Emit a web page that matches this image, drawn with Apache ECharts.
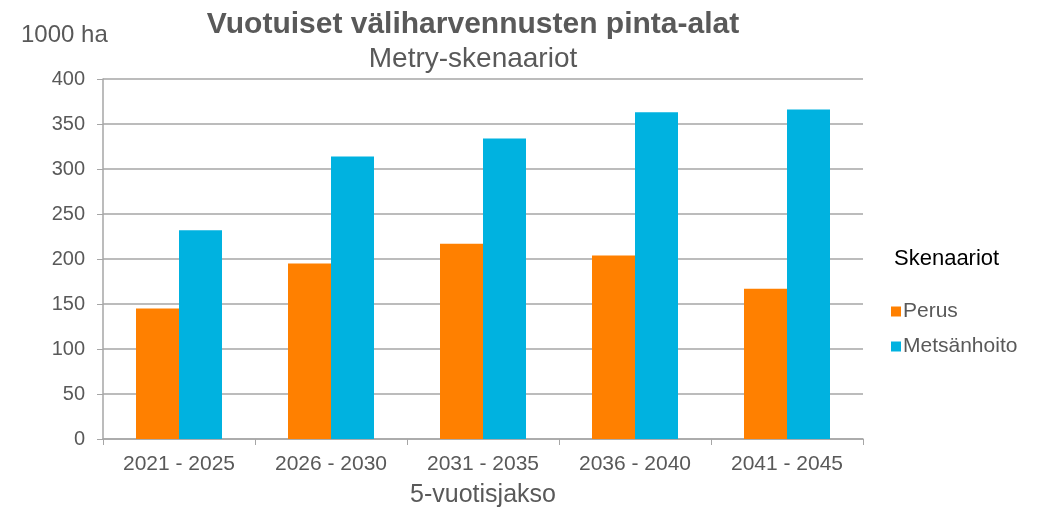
<!DOCTYPE html>
<html><head><meta charset="utf-8">
<script src="https://cdn.jsdelivr.net/npm/echarts@6/dist/echarts.min.js"></script>
<style>html,body{margin:0;padding:0;background:#fff}#c{width:1043px;height:513px}</style>
</head><body><div id="c"></div>
<script>
const categories = ['2021 - 2025','2026 - 2030','2031 - 2035','2036 - 2040','2041 - 2045'];
const perus = [145, 195, 217, 204, 167];
const metsanhoito = [232, 314, 334, 363, 366];
const seriesNames = ['Perus','Metsänhoito'];
const FONT = "'Liberation Sans',Arial,sans-serif";
const chart = echarts.init(document.getElementById('c'));
chart.setOption({
  backgroundColor:'#fff',
  animation:false,
  title:[
    {text:'Vuotuiset väliharvennusten pinta-alat', left:468, top:5, textAlign:'center',
     textStyle:{fontFamily:FONT,fontSize:30,fontWeight:'bold',color:'#595959'}},
    {text:'Metry-skenaariot', left:468, top:40, textAlign:'center',
     textStyle:{fontFamily:FONT,fontSize:28,fontWeight:'normal',color:'#595959'}}
  ],
  graphic:[
    {type:'text', left:21, top:23, style:{text:'1000 ha', fontFamily:FONT, fontSize:24, fill:'#595959'}},
    {type:'text', left:894, top:248, style:{text:'Skenaariot', fontFamily:FONT, fontSize:22, fill:'#000'}}
  ],
  legend:{orient:'vertical', left:886, top:296, itemWidth:10, itemHeight:10, itemGap:14,
    icon:'rect', data:seriesNames,
    textStyle:{fontFamily:FONT, fontSize:21, color:'#595959', padding:[0,0,0,-3]}},
  grid:{left:103, right:180, top:79, bottom:74},
  xAxis:{type:'category', data:categories,
    name:'5-vuotisjakso', nameLocation:'middle', nameGap:44,
    nameTextStyle:{fontFamily:FONT, fontSize:25, color:'#595959'},
    axisLine:{lineStyle:{color:'#a6a6a6', width:1.5}},
    axisTick:{show:true, alignWithLabel:false, length:6, lineStyle:{color:'#a6a6a6'}},
    axisLabel:{fontFamily:FONT, fontSize:21, color:'#595959', margin:15}},
  yAxis:{type:'value', min:0, max:400, interval:50,
    axisLine:{show:true, lineStyle:{color:'#a6a6a6', width:1.5}},
    axisTick:{show:true, length:6, lineStyle:{color:'#a6a6a6'}},
    splitLine:{lineStyle:{color:'#a6a6a6', width:1.5}},
    axisLabel:{fontFamily:FONT, fontSize:20, color:'#595959', margin:18}},
  series:[
    {name:seriesNames[0], type:'bar', data:perus, barWidth:43, barGap:'0%', itemStyle:{color:'#FF8000'}},
    {name:seriesNames[1], type:'bar', data:metsanhoito, barWidth:43, barGap:'0%', itemStyle:{color:'#00B2E0'}}
  ]
});
</script></body></html>
